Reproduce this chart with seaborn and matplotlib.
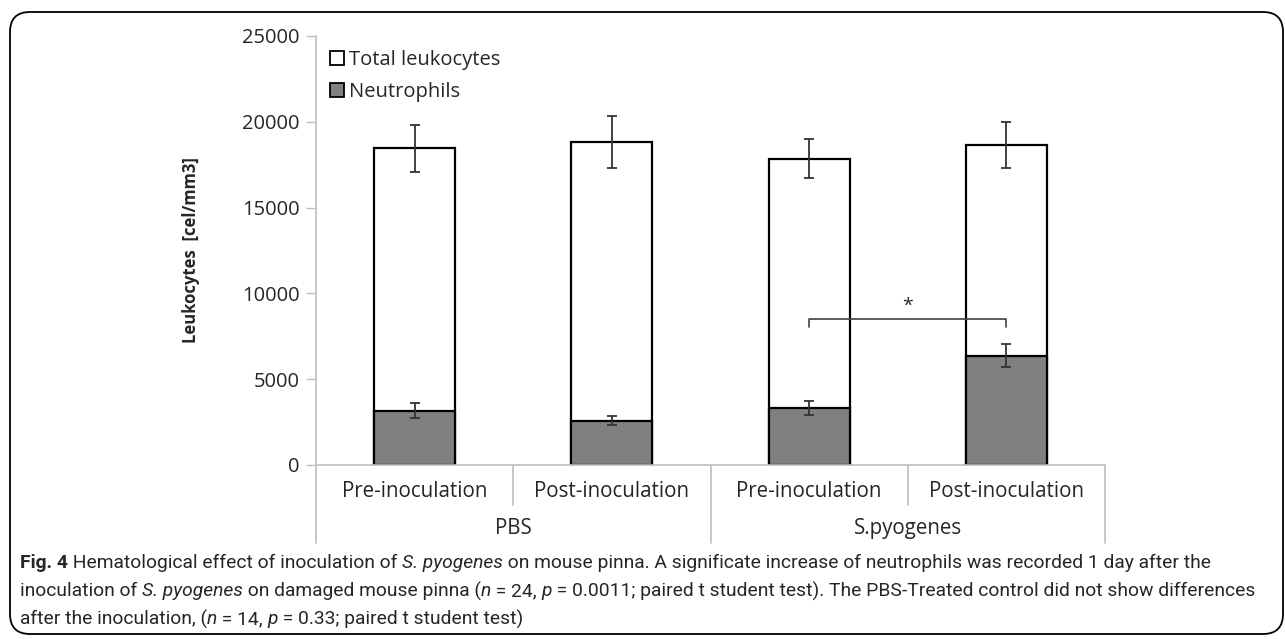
import pandas as pd
import seaborn as sns
import matplotlib.pyplot as plt
from matplotlib.patches import Patch, FancyBboxPatch

# values
conditions = ["Pre-inoculation", "Post-inoculation", "Pre-inoculation", "Post-inoculation"]
groups = ["PBS", "S.pyogenes"]
slots = ["PBS pre", "PBS post", "Spy pre", "Spy post"]
total_leuko = [18450, 18830, 17850, 18630]
total_err = [1370, 1520, 1130, 1340]
neutrophils = [3170, 2590, 3340, 6360]
neutro_err = [450, 280, 400, 670]

df = pd.DataFrame({"slot": slots, "total": total_leuko, "neut": neutrophils})

sns.set_theme(style="white")
plt.rcParams["font.family"] = ["Open Sans", "DejaVu Sans"]

fig = plt.figure(figsize=(12.85, 6.39), dpi=100)
ax = fig.add_axes([316 / 1285, 1 - 465 / 639, 789 / 1285, 429 / 639])

sns.barplot(data=df, x="slot", y="total", color="white", edgecolor="black",
            linewidth=1.6, width=0.41, errorbar=None, saturation=1, ax=ax)
sns.barplot(data=df, x="slot", y="neut", color="#808080", edgecolor="black",
            linewidth=1.6, width=0.41, errorbar=None, saturation=1, ax=ax)
xs = list(range(len(slots)))
ax.errorbar(xs, total_leuko, yerr=total_err, fmt="none", ecolor="#333333",
            elinewidth=1.3, capsize=3.5, capthick=1.3, zorder=5)
ax.errorbar(xs, neutrophils, yerr=neutro_err, fmt="none", ecolor="#333333",
            elinewidth=1.3, capsize=3.5, capthick=1.3, zorder=5)

ax.set_xlim(-0.5, 3.5)
ax.set_ylim(0, 25000)
ax.set_yticks(range(0, 25001, 5000))
ax.tick_params(axis="y", length=7, width=1, color="#bfbfbf", direction="out",
               labelsize=14.5, pad=5, left=True)
ax.set_xticks(xs)
ax.set_xticklabels([])
ax.tick_params(axis="x", length=0)
ax.set_xlabel("")
ax.set_ylabel("Leukocytes  [cel/mm3]", fontsize=12, fontweight="bold", labelpad=30)
for s in ["top", "right"]:
    ax.spines[s].set_visible(False)
for s in ["left", "bottom"]:
    ax.spines[s].set_color("#bfbfbf")
    ax.spines[s].set_linewidth(1.2)

# two-level category axis
trans = ax.get_xaxis_transform()
for i, lab in enumerate(conditions):
    ax.text(i, -0.062, lab, transform=trans, ha="center", va="center", fontsize=14.8)
for j, g in enumerate(groups):
    ax.text(j * 2 + 0.5, -0.147, g, transform=trans, ha="center", va="center", fontsize=14.8)
for xb in [-0.5, 1.5, 3.5]:
    ax.plot([xb, xb], [0, -0.182], transform=trans, color="#bfbfbf", lw=1.2, clip_on=False)
for xb in [0.5, 2.5]:
    ax.plot([xb, xb], [0, -0.093], transform=trans, color="#bfbfbf", lw=1.2, clip_on=False)

# significance bracket
ax.plot([2, 2, 3, 3], [8050, 8500, 8500, 8050], color="#404040", lw=1.2, zorder=6)
ax.text(2.5, 8750, "*", ha="center", va="bottom", fontsize=14)

handles = [Patch(facecolor="white", edgecolor="black", linewidth=1.3, label="Total leukocytes"),
           Patch(facecolor="#808080", edgecolor="black", linewidth=1.3, label="Neutrophils")]
ax.legend(handles=handles, loc="upper left", bbox_to_anchor=(0.0, 1.0), frameon=False,
          fontsize=14.5, handlelength=0.7, handleheight=0.7, handletextpad=0.25,
          labelspacing=0.6, borderaxespad=0.3)

# figure frame
fig.patches.append(FancyBboxPatch((0.10, 0.05), 12.73, 6.22, boxstyle="round,pad=0,rounding_size=0.2",
                                  transform=fig.dpi_scale_trans, facecolor="none",
                                  edgecolor="black", linewidth=1.3))

# caption with mixed styles
caption = [
    [("Fig. 4", "bold", "normal"), (" Hematological effect of inoculation of ", "normal", "normal"),
     ("S. pyogenes", "normal", "italic"),
     (" on mouse pinna. A significate increase of neutrophils was recorded 1 day after the", "normal", "normal")],
    [("inoculation of ", "normal", "normal"), ("S. pyogenes", "normal", "italic"),
     (" on damaged mouse pinna (", "normal", "normal"), ("n", "normal", "italic"),
     (" = 24, ", "normal", "normal"), ("p", "normal", "italic"),
     (" = 0.0011; paired t student test). The PBS-Treated control did not show differences", "normal", "normal")],
    [("after the inoculation, (", "normal", "normal"), ("n", "normal", "italic"),
     (" = 14, ", "normal", "normal"), ("p", "normal", "italic"),
     (" = 0.33; paired t student test)", "normal", "normal")],
]
renderer = fig.canvas.get_renderer()
for k, line in enumerate(caption):
    xpix = 20
    ypix = 563 + k * 28
    for txt, wt, st in line:
        t = fig.text(xpix / 1285, 1 - ypix / 639, txt, fontsize=13.9, fontweight=wt, fontstyle=st,
                     family=["Roboto", "DejaVu Sans"], va="center", ha="left")
        bb = t.get_window_extent(renderer=renderer)
        xpix += bb.width

fig.savefig("out.png", dpi=100)
